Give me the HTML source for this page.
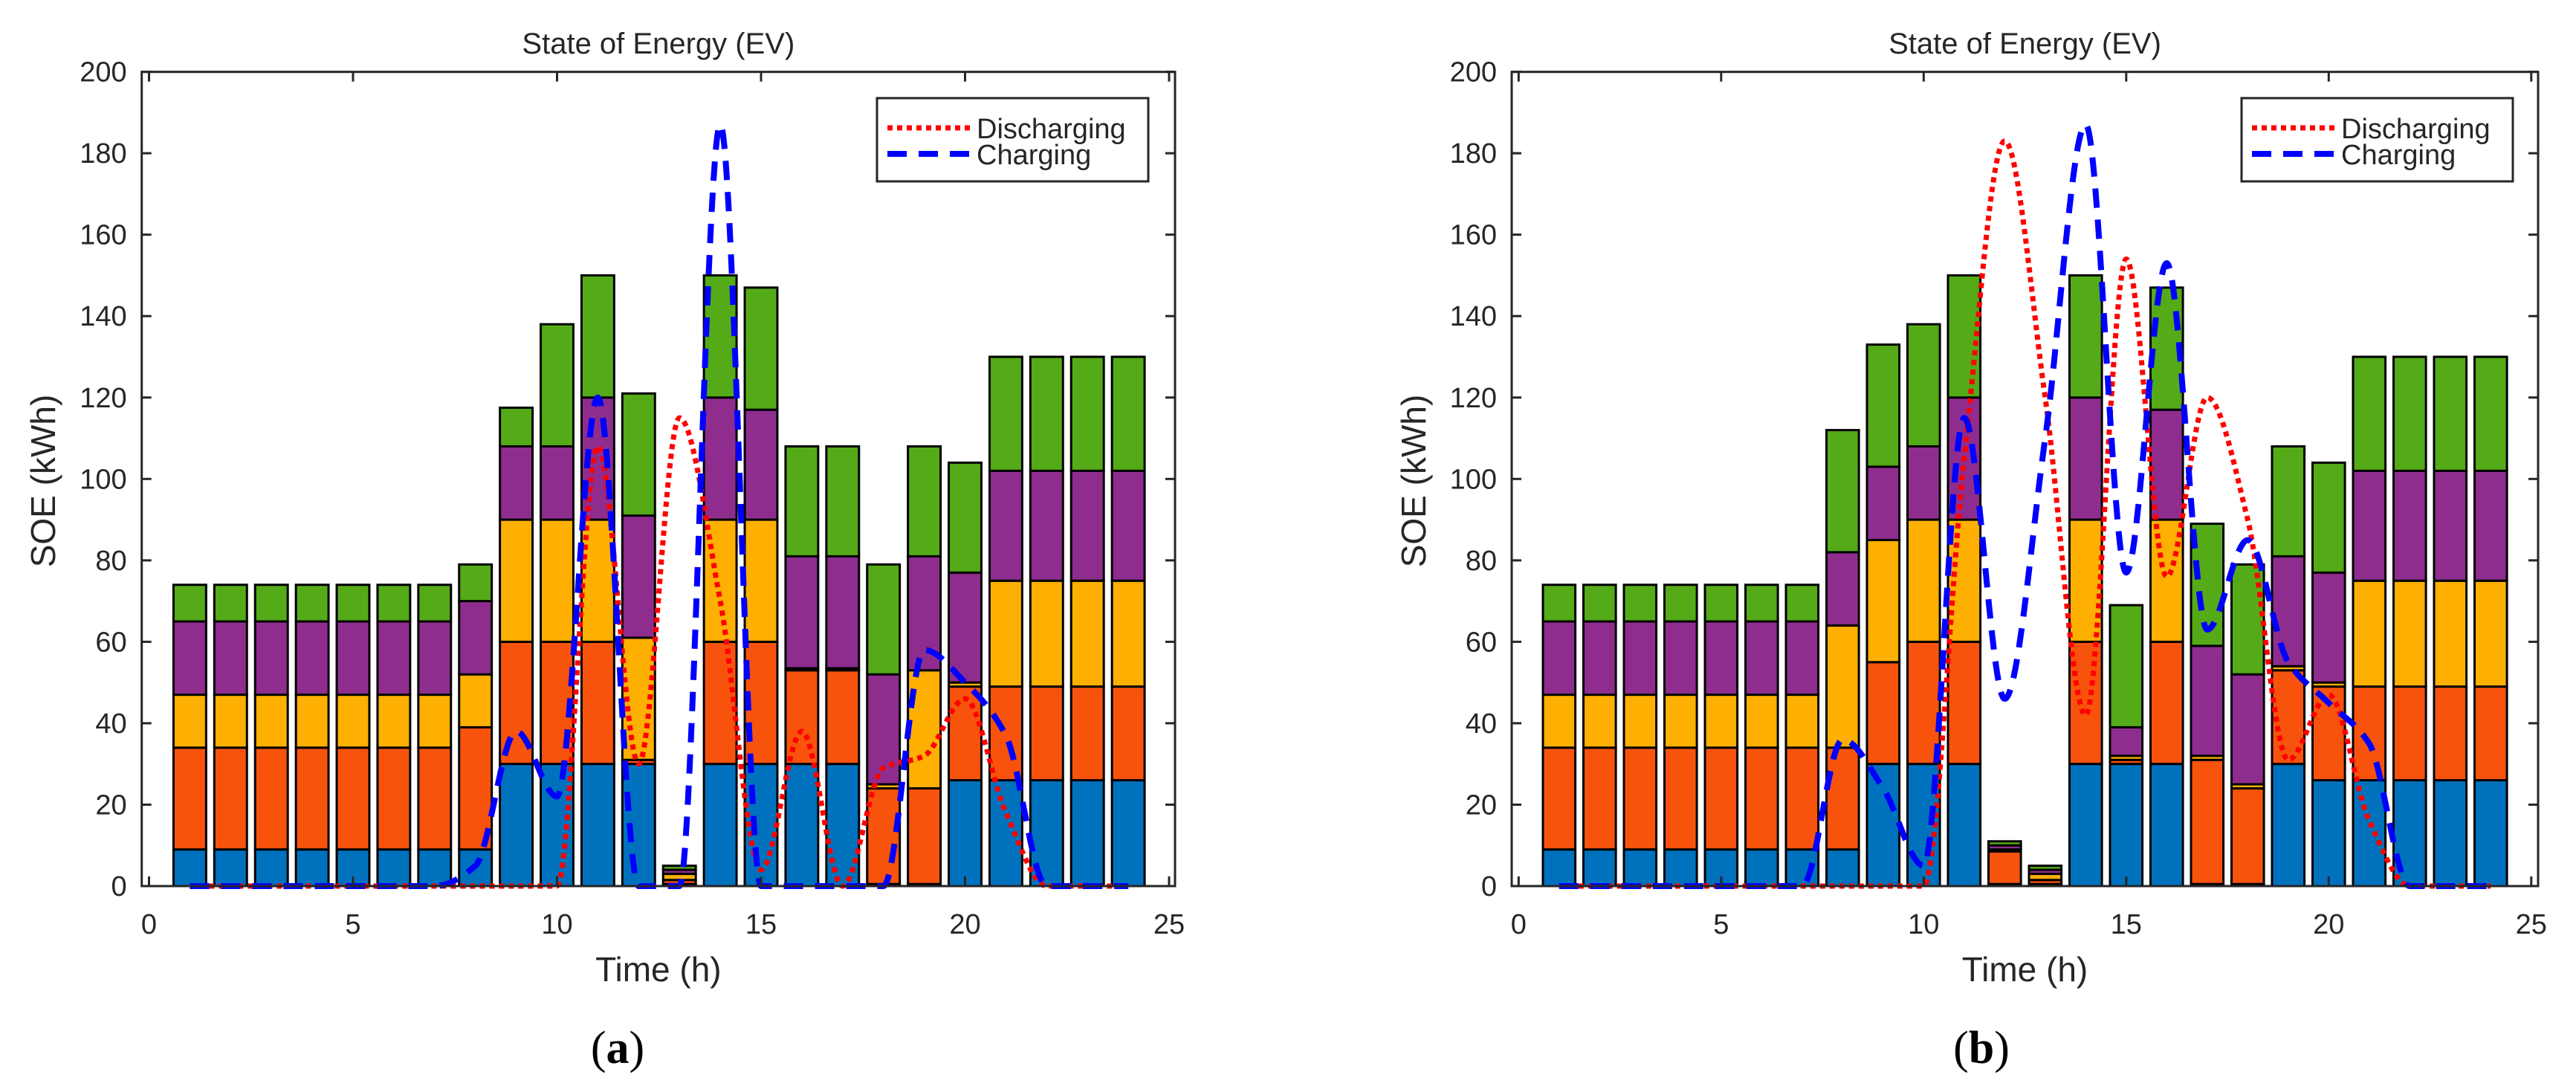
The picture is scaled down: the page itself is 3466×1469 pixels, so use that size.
<!DOCTYPE html>
<html><head><meta charset="utf-8"><style>
html,body{margin:0;padding:0;background:#fff;}
svg{display:block;}
text{font-family:"Liberation Sans",Arial,sans-serif;fill:#262626;}
</style></head><body>
<svg id="fig" width="3466" height="1469" viewBox="0 0 3466 1469" xmlns="http://www.w3.org/2000/svg"></svg>
<script>
// ---- Data ----
const hours = [1,2,3,4,5,6,7,8,9,10,11,12,13,14,15,16,17,18,19,20,21,22,23,24];
const xTicks = [0,5,10,15,20,25];
const yTicks = [0,20,40,60,80,100,120,140,160,180,200];
// Panel (a) stacked segment heights: blue, red, yellow, purple, green
const aBlue   = [9,9,9,9,9,9,9,9,30,30,30,30,0.5,30,30,30,30,0.5,0.5,26,26,26,26,26];
const aRed    = [25,25,25,25,25,25,25,30,30,30,30,1,1,30,30,23,23,23.5,23.5,23,23,23,23,23];
const aYellow = [13,13,13,13,13,13,13,13,30,30,30,30,1.5,30,30,0.5,0.5,1,29,1,26,26,26,26];
const aPurple = [18,18,18,18,18,18,18,18,18,18,30,30,1,30,27,27.5,27.5,27,28,27,27,27,27,27];
const aGreen  = [9,9,9,9,9,9,9,9,9.5,30,30,30,1,30,30,27,27,27,27,27,28,28,28,28];
const aDis    = [0,0,0,0,0,0,0,0,0,0,108,30,115,70,4,38,0,29,32,46,18,0,0,0];
const aChg    = [0,0,0,0,0,0,0,5,38,22,120,0,0,187,0,0,0,0,58,50,37,0,0,0];
// Panel (b)
const bBlue   = [9,9,9,9,9,9,9,9,30,30,30,0.5,0.5,30,30,30,0.5,0.5,30,26,26,26,26,26];
const bRed    = [25,25,25,25,25,25,25,25,25,30,30,8,1,30,1,30,30.5,23.5,23,23,23,23,23,23];
const bYellow = [13,13,13,13,13,13,13,30,30,30,30,0.5,1.5,30,1,30,1,1,1,1,26,26,26,26];
const bPurple = [18,18,18,18,18,18,18,18,18,18,30,1,1,30,7,27,27,27,27,27,27,27,27,27];
const bGreen  = [9,9,9,9,9,9,9,30,30,30,30,1,1,30,30,30,30,27,27,27,28,28,28,28];
const bDis    = [0,0,0,0,0,0,0,0,0,0,105,183,120,42,154,76,120,90,31,47,16,0,0,0];
const bChg    = [0,0,0,0,0,0,0,36,24,5,115,46,110,187,77,153,63,85,55,45,35,0,0,0];

const colors = ['#0072BD','#F7530D','#FDB002','#8E2D8E','#55AA18'];
const NS='http://www.w3.org/2000/svg';
const svg=document.getElementById('fig');
function el(tag,attrs,parent){const e=document.createElementNS(NS,tag);for(const k in attrs)e.setAttribute(k,attrs[k]);(parent||svg).appendChild(e);return e;}

// monotone cubic (Fritsch-Carlson) path, no overshoot
function monotone(pts){
  const n=pts.length, dx=[], m=[], t=[];
  for(let i=0;i<n-1;i++){dx.push(pts[i+1][0]-pts[i][0]);m.push((pts[i+1][1]-pts[i][1])/dx[i]);}
  t[0]=m[0]; t[n-1]=m[n-2];
  for(let i=1;i<n-1;i++){
    if(m[i-1]*m[i]<=0) t[i]=0;
    else t[i]=2/(1/m[i-1]+1/m[i]);
  }
  let d='M'+pts[0][0]+','+pts[0][1];
  for(let i=0;i<n-1;i++){
    const h=dx[i]/3;
    d+=' C'+(pts[i][0]+h)+','+(pts[i][1]+t[i]*h)+' '+(pts[i+1][0]-h)+','+(pts[i+1][1]-t[i+1]*h)+' '+pts[i+1][0]+','+pts[i+1][1];
  }
  return d;
}

function panel(cfg){
  const g=el('g',{});
  
  
  const X=v=>cfg.x0+v*cfg.kx;
  const Y=v=>1192-v*5.477;
  const L=cfg.left,R=cfg.right,T=96.7,B=1192;
  const stacks=[cfg.blue,cfg.red,cfg.yellow,cfg.purple,cfg.green];
  const segNames=['blue','red','yellow','purple','green'];
  hours.forEach((h,i)=>{
    let base=0;
    stacks.forEach((arr,s)=>{
      const v=arr[i];
      const r=el('rect',{x:X(h)-0.4*cfg.kx,y:Y(base+v),width:0.8*cfg.kx,height:Math.max(v*5.477,0.5),fill:colors[s],stroke:'#000','stroke-width':3},g);
      
      
      base+=v;
    });
  });
  const dp=monotone(hours.map((h,i)=>[X(h),Y(cfg.dis[i])]));
  const dl=el('path',{d:dp,fill:'none',stroke:'#FF0000','stroke-width':7,'stroke-dasharray':'7 6'},g);
  
  
  const cp=monotone(hours.map((h,i)=>[X(h),Y(cfg.chg[i])]));
  const cl=el('path',{d:cp,fill:'none',stroke:'#0000FF','stroke-width':8,'stroke-dasharray':'26 16'},g);
  
  
  const box=el('rect',{x:L,y:T,width:R-L,height:B-T,fill:'none',stroke:'#262626','stroke-width':3},g);
  
  
  xTicks.forEach(t=>{
    const x=X(t);
    el('line',{x1:x,y1:B,x2:x,y2:B-13,stroke:'#262626','stroke-width':3},g);
    el('line',{x1:x,y1:T,x2:x,y2:T+13,stroke:'#262626','stroke-width':3},g);
    const tx=el('text',{x:x,y:1256,'font-size':38,'text-anchor':'middle'},g);
    tx.textContent=t;
    
    
  });
  yTicks.forEach(t=>{
    const y=Y(t);
    el('line',{x1:L,y1:y,x2:L+13,y2:y,stroke:'#262626','stroke-width':3},g);
    el('line',{x1:R,y1:y,x2:R-13,y2:y,stroke:'#262626','stroke-width':3},g);
    const ty=el('text',{x:L-20,y:y+13,'font-size':38,'text-anchor':'end'},g);
    ty.textContent=t;
    
    
  });
  const cx=(L+R)/2;
  const title=el('text',{x:cx,y:72,'font-size':40,'text-anchor':'middle'},g);
  title.textContent='State of Energy (EV)';
  
  
  const xl=el('text',{x:cx,y:1320,'font-size':46,'text-anchor':'middle'},g);
  xl.textContent='Time (h)';
  
  
  const yl=el('text',{x:0,y:0,'font-size':46,'text-anchor':'middle',transform:'translate('+(cfg.ylx+16)+',647) rotate(-90)'},g);
  yl.textContent='SOE (kWh)';
  
  
  const cap=el('text',{x:cfg.capx,y:1430,'font-size':62,'text-anchor':'middle',style:'font-family:"Liberation Serif",serif;fill:#000'},g);
  cap.innerHTML='(<tspan font-weight="bold">'+cfg.cap+'</tspan>)';
  
  
  const lg=el('g',{},g);
  
  
  el('rect',{x:cfg.lgx,y:132,width:365,height:112,fill:'#fff',stroke:'#262626','stroke-width':3},lg);
  el('line',{x1:cfg.lgx+14,y1:172,x2:cfg.lgx+125,y2:172,stroke:'#FF0000','stroke-width':7,'stroke-dasharray':'7 6'},lg);
  el('line',{x1:cfg.lgx+14,y1:207,x2:cfg.lgx+125,y2:207,stroke:'#0000FF','stroke-width':8,'stroke-dasharray':'26 16'},lg);
  const t1=el('text',{x:cfg.lgx+134,y:186,'font-size':38},lg);t1.textContent='Discharging';
  
  
  const t2=el('text',{x:cfg.lgx+134,y:221,'font-size':38},lg);t2.textContent='Charging';
  
  
}
panel({name:'panel-a',x0:200.5,kx:54.9,left:190.7,right:1581,ylx:58,capx:831,cap:'a',lgx:1180,
  blue:aBlue,red:aRed,yellow:aYellow,purple:aPurple,green:aGreen,dis:aDis,chg:aChg});
panel({name:'panel-b',x0:2043.3,kx:54.5,left:2034,right:3415,ylx:1902,capx:2666,cap:'b',lgx:3016,
  blue:bBlue,red:bRed,yellow:bYellow,purple:bPurple,green:bGreen,dis:bDis,chg:bChg});
</script>
</body></html>
